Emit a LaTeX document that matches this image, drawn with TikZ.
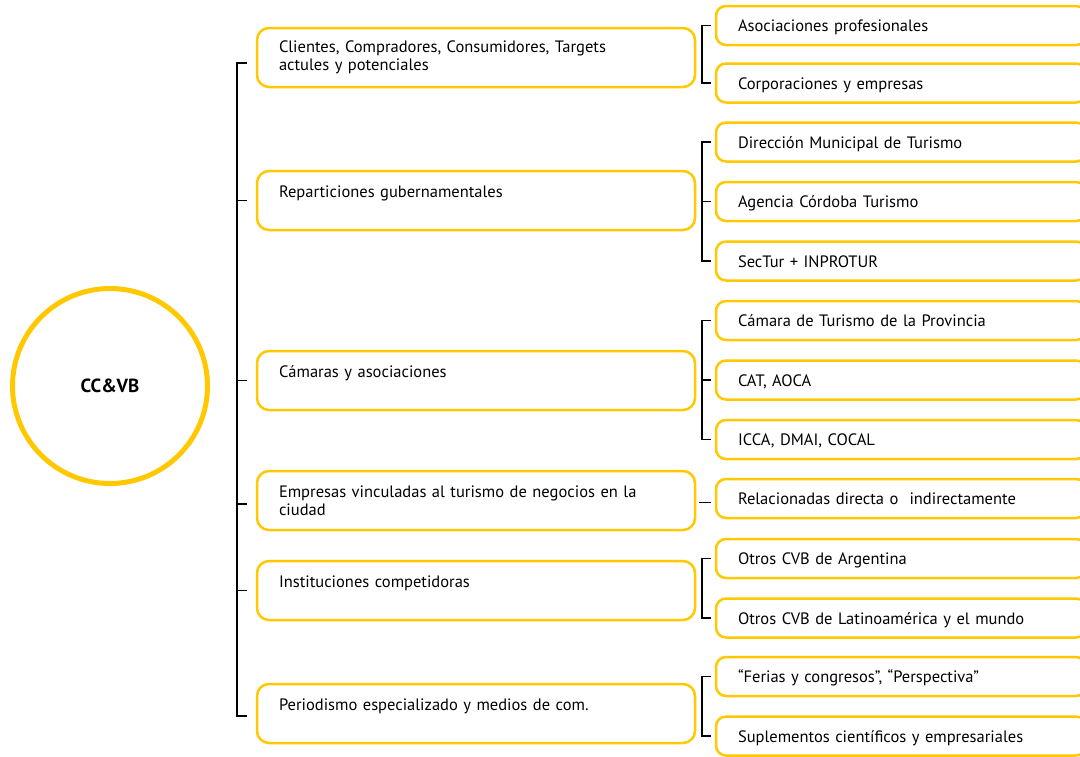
\documentclass[tikz,border=0pt]{standalone}
\usepackage{fontspec}
\setmainfont{PT Sans}
\usetikzlibrary{positioning}
\usepackage{xcolor}
\definecolor{cvbgold}{RGB}{255,200,0}

\tikzset{
  topic/.style={rectangle, rounded corners=12pt, draw=cvbgold, line width=2.5pt,
    text width=394pt, inner xsep=22pt, minimum height=59pt, align=left,
    font=\fontsize{16.5}{18}\selectfont},
  item/.style={rectangle, rounded corners=10pt, draw=cvbgold, line width=2.5pt,
    text width=326pt, inner xsep=22pt, minimum height=39pt, align=left,
    text height=15pt, text depth=3pt,
    font=\fontsize{16.5}{18}\selectfont},
  bracket/.style={draw=black, line width=1.6pt, line join=miter}
}

\begin{document}
\begin{tikzpicture}[x=1pt, y=-1pt, node distance=18pt]
        \clip (0,0) rectangle (1080,756);
        \node (cvb) [circle, draw=cvbgold, line width=5pt, minimum size=195pt,
          font=\fontsize{19}{22}\selectfont\bfseries] at (110,386) {CC\&VB};

        % first level
        \node (cli) [topic] at (476,57.5) {Clientes, Compradores, Consumidores, Targets\\actules y potenciales};
        \node (rep) [topic] at (476,200.5) {Reparticiones gubernamentales\\\mbox{}};
        \node (cam) [topic] at (476,380.5) {Cámaras y asociaciones\\\mbox{}};
        \node (emp) [topic] at (476,500.5) {Empresas vinculadas al turismo de negocios en la\\ciudad};
        \node (ins) [topic] at (476,590.5) {Instituciones competidoras\\\mbox{}};
        \node (per) [topic] at (476,713.5) {Periodismo especializado y medios de com.\\\mbox{}};

        % second level
        \node (aso) [item] at (901,25.5) {Asociaciones profesionales};
        \node (cor) [item, below=16pt of aso] {Corporaciones y empresas};
        \node (dir) [item] at (901,142) {Dirección Municipal de Turismo};
        \node (age) [item, below=of dir] {Agencia Córdoba Turismo};
        \node (sec) [item, below=of age] {SecTur + INPROTUR};
        \node (ctp) [item] at (901,320.5) {Cámara de Turismo de la Provincia};
        \node (cat) [item, below=of ctp] {CAT, AOCA};
        \node (icc) [item, below=of cat] {ICCA, DMAI, COCAL};
        \node (rel) [item] at (901,498.5) {Relacionadas directa o~~indirectamente};
        \node (arg) [item] at (901,558.5) {Otros CVB de Argentina};
        \node (lat) [item, below=of arg] {Otros CVB de Latinoamérica y el mundo};
        \node (fer) [item] at (901,676.5) {“Ferias y congresos”, “Perspectiva”};
        \node (sup) [item, below=of fer] {Suplementos científicos y empresariales};

        % brackets
        \draw[bracket] ([xshift=-9pt,yshift=-5.5pt]cli.west) -| ([xshift=-19pt,yshift=-2.5pt]per.west) -- ([xshift=-9pt,yshift=-2.5pt]per.west);
        \draw[bracket] ([xshift=-19pt]rep.west) -- ([xshift=-9pt]rep.west);
        \draw[bracket] ([xshift=-19pt]cam.west) -- ([xshift=-9pt]cam.west);
        \draw[bracket] ([xshift=-19pt,yshift=-3.5pt]emp.west) -- ([xshift=-9pt,yshift=-3.5pt]emp.west);
        \draw[bracket] ([xshift=-19pt]ins.west) -- ([xshift=-9pt]ins.west);

        \draw[bracket] ([xshift=-4pt]aso.west) -| ([xshift=-13pt]cor.west) -- ([xshift=-4pt]cor.west);
        \draw[bracket] ([xshift=-4pt]dir.west) -| ([xshift=-13pt]sec.west) -- ([xshift=-4pt]sec.west);
        \draw[bracket] ([xshift=-13pt]age.west) -- ([xshift=-4pt]age.west);
        \draw[bracket] ([xshift=-4pt]ctp.west) -| ([xshift=-13pt]icc.west) -- ([xshift=-4pt]icc.west);
        \draw[bracket] ([xshift=-13pt]cat.west) -- ([xshift=-4pt]cat.west);
        \draw[bracket] ([xshift=-16pt,yshift=-4pt]rel.west) -- ([xshift=-4pt,yshift=-4pt]rel.west);
        \draw[bracket] ([xshift=-4pt]arg.west) -| ([xshift=-13pt]lat.west) -- ([xshift=-4pt]lat.west);
        \draw[bracket] ([xshift=-4pt]fer.west) -| ([xshift=-13pt]sup.west) -- ([xshift=-4pt]sup.west);
    \end{tikzpicture}
\end{document}
